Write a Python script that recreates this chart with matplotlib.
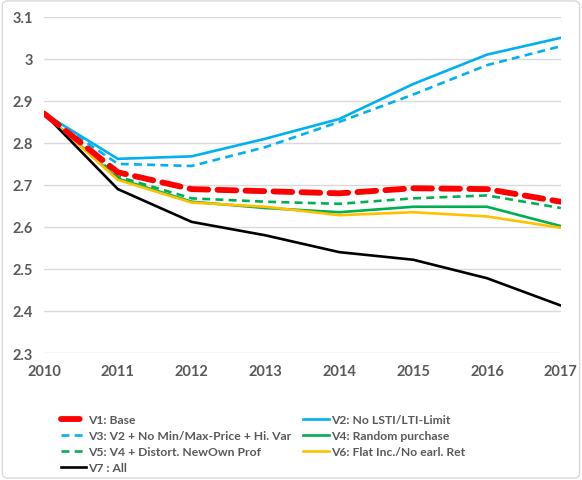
import matplotlib.pyplot as plt
from matplotlib.patches import FancyBboxPatch

# data
years = [2010, 2011, 2012, 2013, 2014, 2015, 2016, 2017]
v1_base = [2.870, 2.730, 2.690, 2.685, 2.680, 2.692, 2.690, 2.660]
v2_no_lsti = [2.870, 2.762, 2.768, 2.810, 2.857, 2.940, 3.010, 3.050]
v3_no_minmax = [2.870, 2.750, 2.745, 2.790, 2.850, 2.915, 2.985, 3.030]
v4_random = [2.870, 2.715, 2.660, 2.645, 2.635, 2.648, 2.648, 2.602]
v5_distort = [2.870, 2.720, 2.668, 2.660, 2.655, 2.668, 2.675, 2.645]
v6_flat = [2.870, 2.712, 2.658, 2.648, 2.628, 2.635, 2.625, 2.598]
v7_all = [2.870, 2.690, 2.612, 2.580, 2.540, 2.522, 2.478, 2.413]

labels = ["V1: Base", "V2: No LSTI/LTI-Limit", "V3: V2 + No Min/Max-Price + Hi. Var",
          "V4: Random purchase", "V5: V4 + Distort. NewOwn Prof",
          "V6: Flat Inc./No earl. Ret", "V7 : All"]
yticks = [2.3, 2.4, 2.5, 2.6, 2.7, 2.8, 2.9, 3.0, 3.1]
ytick_labels = ["2.3", "2.4", "2.5", "2.6", "2.7", "2.8", "2.9", "3", "3.1"]

plt.rcParams['font.family'] = ['Lato', 'DejaVu Sans']

fig = plt.figure(figsize=(5.82, 4.81), dpi=100)
fig.patches.append(FancyBboxPatch((0.004, 0.004), 0.992, 0.992, boxstyle="round,pad=0,rounding_size=0.01",
                                  transform=fig.transFigure, fc='white', ec='#d9d9d9', lw=1, zorder=-1))
ax = fig.add_axes([0.0756, 0.264, 0.888, 0.699])
ax.patch.set_alpha(0)

lw = 1.9
l1, = ax.plot(years, v1_base, color='#FF0000', lw=4.2, dashes=(3.2, 1.6), dash_capstyle='round', zorder=5)
l2, = ax.plot(years, v2_no_lsti, color='#00B0F0', lw=lw)
l3, = ax.plot(years, v3_no_minmax, color='#00B0F0', lw=lw, dashes=(3, 2))
l4, = ax.plot(years, v4_random, color='#00B050', lw=lw)
l5, = ax.plot(years, v5_distort, color='#00B050', lw=lw, dashes=(3, 2))
l6, = ax.plot(years, v6_flat, color='#FFC000', lw=lw)
l7, = ax.plot(years, v7_all, color='black', lw=lw)

ax.set_xlim(2010, 2017)
ax.set_ylim(2.3, 3.1)
ax.set_xticks(years)
ax.set_xticklabels([str(y) for y in years])
ax.set_yticks(yticks)
ax.set_yticklabels(ytick_labels)
ax.grid(axis='y', color='#d9d9d9', lw=1)
ax.set_axisbelow(True)
for s in ax.spines.values():
    s.set_visible(False)
ax.tick_params(length=0, labelsize=10.5, labelcolor='#595959', pad=8)
for t in ax.get_xticklabels() + ax.get_yticklabels():
    t.set_fontweight('bold')

# Excel fills legend row by row; matplotlib fills columns
handles = [l1, l3, l5, l7, l2, l4, l6]
order = [0, 2, 4, 6, 1, 3, 5]
leg = fig.legend(handles, [labels[i] for i in order], ncol=2, loc='upper left',
                 bbox_to_anchor=(0.086, 0.16), bbox_transform=fig.transFigure,
                 frameon=False, fontsize=8.7, labelcolor='#595959', handlelength=2.1,
                 handletextpad=0.15, columnspacing=1.0, labelspacing=0.42)
for t in leg.get_texts():
    t.set_fontweight('bold')

fig.savefig("out.png", dpi=100)
